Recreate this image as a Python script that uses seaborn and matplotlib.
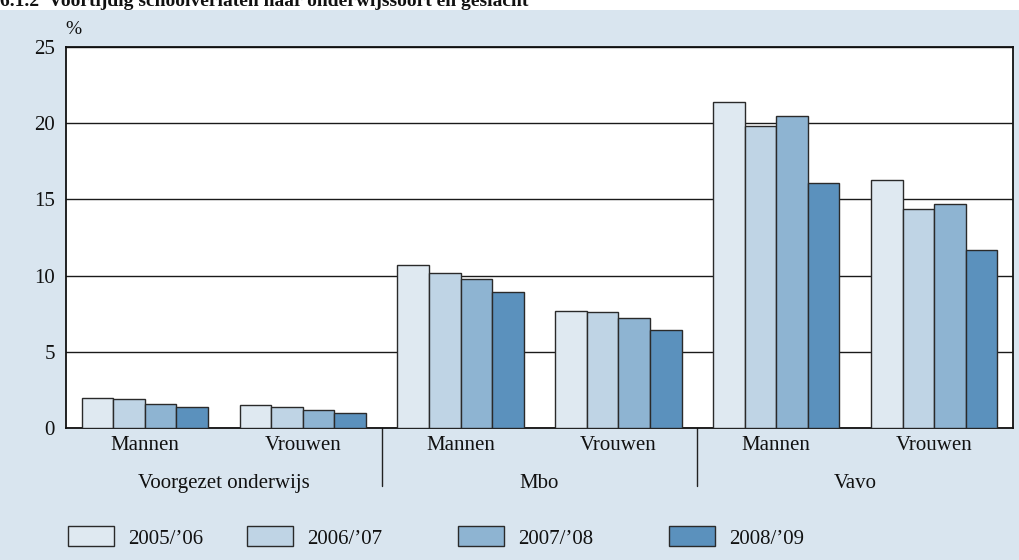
import matplotlib
matplotlib.use("Agg")
import matplotlib.pyplot as plt
import matplotlib.transforms as mtransforms
from matplotlib.patches import Rectangle
import seaborn as sns
import pandas as pd

# ---- data ----
title = "6.1.2  Voortijdig schoolverlaten naar onderwijssoort en geslacht"
groups = ["Voorgezet onderwijs", "Mbo", "Vavo"]
genders = ["Mannen", "Vrouwen"]
years = ["2005/\u201906", "2006/\u201907", "2007/\u201908", "2008/\u201909"]
v_2005_06 = [2.0, 1.5, 10.7, 7.7, 21.4, 16.3]
v_2006_07 = [1.9, 1.4, 10.2, 7.6, 19.8, 14.4]
v_2007_08 = [1.6, 1.2, 9.8, 7.2, 20.5, 14.7]
v_2008_09 = [1.4, 1.0, 8.9, 6.4, 16.1, 11.7]
yticks = [0, 5, 10, 15, 20, 25]
y_unit = "%"

series = [v_2005_06, v_2006_07, v_2007_08, v_2008_09]
cats = [f"{g}|{s}" for g in groups for s in genders]
rows = []
for yr, vals in zip(years, series):
    for c, v in zip(cats, vals):
        rows.append({"cat": c, "jaar": yr, "pct": v})
df = pd.DataFrame(rows)

colors = ["#dfe9f1", "#bfd4e5", "#8eb4d2", "#5b91bd"]
bg = "#d9e5ef"
FONT = "Liberation Serif"
FS = 15

sns.set_theme(style="white")
plt.rcParams["font.family"] = [FONT, "DejaVu Serif"]

W, H = 1019, 560
fig = plt.figure(figsize=(W / 100, H / 100), dpi=100, facecolor="white")
fig.patches.append(Rectangle((0, 0), 1, 1 - 10 / H, transform=fig.transFigure,
                             facecolor=bg, edgecolor="none", zorder=-10))
fig.text(0, 1 - 6 / H, title, fontsize=FS - 1, fontweight="bold", ha="left",
         va="baseline", color="#111111")

ax = fig.add_axes([66 / W, (H - 428) / H, (1013 - 66) / W, (428 - 47) / H])
ax.set_facecolor("white")

sns.barplot(data=df, x="cat", y="pct", hue="jaar", order=cats, hue_order=years,
            palette=colors, saturation=1, width=0.8, edgecolor="#2a2a2a",
            linewidth=1.0, ax=ax, errorbar=None, zorder=3)

ax.set_xlim(-0.5, len(cats) - 0.5)
ax.set_ylim(0, 25)
ax.set_yticks(yticks)
ax.set_yticklabels([str(t) for t in yticks], fontsize=FS, color="#111111")
ax.set_xticks(range(len(cats)))
ax.set_xticklabels([c.split("|")[1] for c in cats], fontsize=FS, color="#111111")
ax.tick_params(axis="x", length=0, pad=6)
ax.tick_params(axis="y", length=0, pad=8)
ax.set_xlabel("")
ax.set_ylabel("")
ax.set_axisbelow(True)
ax.yaxis.grid(True, color="#1a1a1a", linewidth=1.0, zorder=0)
ax.xaxis.grid(False)
for sp in ax.spines.values():
    sp.set_visible(True)
    sp.set_color("#111111")
    sp.set_linewidth(1.3)

# group separators and labels
trans = mtransforms.blended_transform_factory(ax.transData, ax.transAxes)
ah = 428 - 47
for i in range(1, len(groups)):
    xs = i * len(genders) - 0.5
    ax.plot([xs, xs], [0, -(486 - 428) / ah], transform=trans, color="#222222",
            linewidth=1.0, clip_on=False)
for i, g in enumerate(groups):
    xc = i * len(genders) + (len(genders) - 1) / 2
    ax.text(xc, -(488 - 428) / ah, g, transform=trans, ha="center",
            va="baseline", fontsize=FS, color="#111111")

ax.text(73 / W, 1 - 30 / H, y_unit, transform=fig.transFigure, ha="center",
        va="center", fontsize=FS - 1, color="#111111")

# legend
handles, labels = ax.get_legend_handles_labels()
ax.get_legend().remove()
starts = [68, 247, 458, 669]
for h, l, x0 in zip(handles, labels, starts):
    leg = fig.legend([h], [l], loc="center left",
                     bbox_to_anchor=(x0 / W, (H - 537.5) / H),
                     frameon=False, fontsize=FS, handlelength=2.2,
                     handleheight=1.1, handletextpad=0.7, borderpad=0,
                     borderaxespad=0)
    for t in leg.get_texts():
        t.set_color("#111111")

fig.savefig("out.png", dpi=100, facecolor="white")
